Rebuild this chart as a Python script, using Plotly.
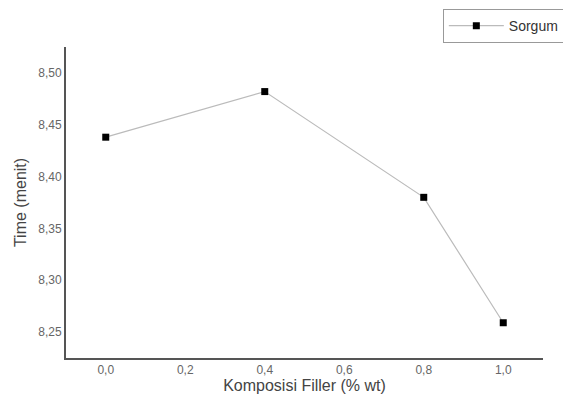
import plotly.graph_objects as go

filler = [0.0, 0.4, 0.8, 1.0]
time_menit = [8.438, 8.482, 8.380, 8.259]
series_name = "Sorgum"

x_tickvals = [0.0, 0.2, 0.4, 0.6, 0.8, 1.0]
x_ticktext = ["0,0", "0,2", "0,4", "0,6", "0,8", "1,0"]
y_tickvals = [8.25, 8.30, 8.35, 8.40, 8.45, 8.50]
y_ticktext = ["8,25", "8,30", "8,35", "8,40", "8,45", "8,50"]

fig = go.Figure()
fig.add_trace(go.Scatter(
    x=filler, y=time_menit, name=series_name, mode="lines+markers",
    line=dict(color="#bbbbbb", width=1.2),
    marker=dict(symbol="square", size=7, color="#000000"),
))

font_family = "Liberation Sans, Arial, sans-serif"
fig.update_layout(
    width=571, height=397,
    margin=dict(l=58, r=36, t=39, b=47, autoexpand=False),
    paper_bgcolor="white", plot_bgcolor="white",
    font=dict(family=font_family, color="#555555", size=12),
    showlegend=True,
    legend=dict(
        x=0.79, y=1.122, xanchor="left", yanchor="top",
        bordercolor="#999999", borderwidth=1, bgcolor="white",
        font=dict(size=14, color="#333333"),
        itemwidth=55, tracegroupgap=0,
    ),
    xaxis=dict(
        range=[-0.1, 1.1], tickvals=x_tickvals, ticktext=x_ticktext,
        showgrid=False, zeroline=False, showline=True, linecolor="#555555",
        linewidth=1.8, ticks="", ticklen=0,
        title=dict(text="Komposisi Filler (% wt)", font=dict(size=16, color="#444444"), standoff=2),
        tickfont=dict(size=12, color="#666666"),
    ),
    yaxis=dict(
        range=[8.225, 8.525], tickvals=y_tickvals, ticktext=y_ticktext,
        showgrid=False, zeroline=False, showline=True, linecolor="#555555",
        linewidth=1.8, ticks="", ticklen=0,
        title=dict(text="Time (menit)", font=dict(size=16, color="#444444"), standoff=8),
        tickfont=dict(size=12, color="#666666"),
    ),
)

fig.write_html("out.html")
